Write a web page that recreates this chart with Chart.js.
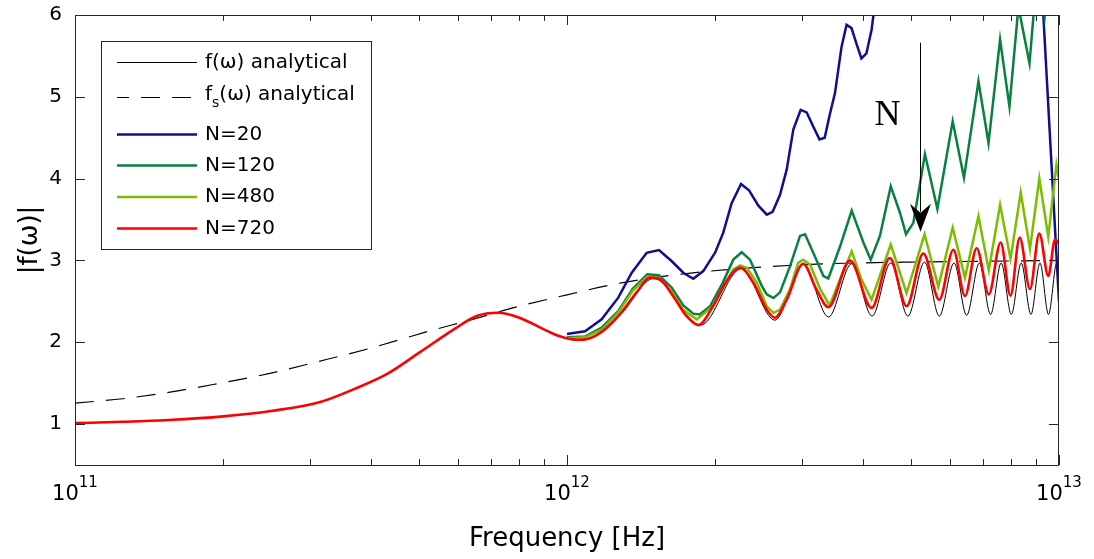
<!DOCTYPE html>
<html>
<head>
<meta charset="utf-8">
<script src="https://cdn.jsdelivr.net/npm/chart.js@4.4.0/dist/chart.umd.min.js"></script>
<style>
  html, body { margin: 0; padding: 0; background: #fff; }
  #wrap { width: 1094px; height: 559px; }
</style>
</head>
<body>
<div id="wrap"><canvas id="chart" width="1094" height="559"></canvas></div>
<script>
// valores: [frequência em Hz, |f(ω)|]
const fAnalytical = [
  [1e11, 1.012], [1.25e11, 1.028], [1.55e11, 1.05], [2e11, 1.094], [2.5e11, 1.16], [3.15e11, 1.27],
  [3.7e11, 1.43], [4.3e11, 1.61], [5e11, 1.87], [5.9e11, 2.16], [6.55e11, 2.32], [7.25e11, 2.36],
  [8e11, 2.30], [9.1e11, 2.14], [1.06e12, 2.02], [1.28e12, 2.33], [1.5e12, 2.78], [1.87e12, 2.21],
  [2.26e12, 2.90], [2.645e12, 2.27], [3.02e12, 2.95], [3.4e12, 2.31], [3.79e12, 2.96], [4.17e12, 2.32],
  [4.55e12, 2.97], [4.93e12, 2.32], [5.33e12, 2.98], [5.71e12, 2.32], [6.12e12, 2.97], [6.49e12, 2.33],
  [6.89e12, 2.97], [7.26e12, 2.34], [7.63e12, 2.97], [8.0e12, 2.34], [8.38e12, 2.97], [8.77e12, 2.34],
  [9.15e12, 2.97], [9.52e12, 2.34], [9.9e12, 2.97], [1e13, 2.96]
];

const fsAnalytical = [
  [1e11, 1.256], [1.25e11, 1.31], [1.56e11, 1.39], [1.97e11, 1.50], [2.49e11, 1.62], [3.1e11, 1.76],
  [4e11, 1.93], [5.27e11, 2.14], [6.35e11, 2.27], [8e11, 2.44], [1e12, 2.58], [1.3e12, 2.73],
  [1.75e12, 2.84], [2.5e12, 2.92], [3.4e12, 2.96], [5e12, 2.98], [7e12, 2.99], [1e13, 3.0]
];

const n20 = [
  [1e12, 2.10], [1.088e12, 2.134], [1.176e12, 2.28], [1.271e12, 2.545], [1.354e12, 2.85], [1.452e12, 3.094],
  [1.538e12, 3.126], [1.633e12, 2.99], [1.723e12, 2.85], [1.806e12, 2.777], [1.892e12, 2.87], [2.0e12, 3.094],
  [2.078e12, 3.34], [2.161e12, 3.70], [2.258e12, 3.935], [2.344e12, 3.857], [2.449e12, 3.67], [2.547e12, 3.56],
  [2.618e12, 3.594], [2.709e12, 3.80], [2.796e12, 4.11], [2.884e12, 4.60], [2.985e12, 4.84], [3.07e12, 4.81],
  [3.164e12, 4.64], [3.26e12, 4.48], [3.34e12, 4.50], [3.42e12, 4.78], [3.505e12, 5.045], [3.614e12, 5.61],
  [3.70e12, 5.88], [3.787e12, 5.84], [3.875e12, 5.65], [3.966e12, 5.47], [4.06e12, 5.53], [4.16e12, 5.82],
  [4.3e12, 6.5], [9.1e12, 7.0], [1e13, 2.5]
];

const n120 = [
  [1e12, 2.06], [1.088e12, 2.07], [1.176e12, 2.18], [1.271e12, 2.38], [1.36e12, 2.655], [1.456e12, 2.83],
  [1.538e12, 2.82], [1.633e12, 2.667], [1.723e12, 2.45], [1.806e12, 2.35], [1.86e12, 2.34], [1.953e12, 2.44],
  [2.07e12, 2.72], [2.178e12, 3.01], [2.265e12, 3.10], [2.355e12, 3.01], [2.488e12, 2.69], [2.547e12, 2.585],
  [2.628e12, 2.54], [2.71e12, 2.61], [2.84e12, 2.93], [2.976e12, 3.30], [3.046e12, 3.32], [3.168e12, 3.09],
  [3.32e12, 2.81], [3.397e12, 2.78], [3.589e12, 3.17], [3.79e12, 3.61], [4.003e12, 3.22], [4.143e12, 3.01],
  [4.325e12, 3.30], [4.55e12, 3.905], [4.752e12, 3.58], [4.887e12, 3.32], [5.058e12, 3.46], [5.34e12, 4.30],
  [5.66e12, 3.63], [6.08e12, 4.70], [6.41e12, 4.01], [6.86e12, 5.19], [7.19e12, 4.435], [7.59e12, 5.70],
  [7.93e12, 4.88], [8.27e12, 6.1], [8.71e12, 5.41], [9.05e12, 6.6], [9.35e12, 5.98], [9.7e12, 7.0], [1e13, 6.6]
];

const n480 = [
  [1e12, 2.05], [1.09e12, 2.06], [1.18e12, 2.16], [1.27e12, 2.36], [1.36e12, 2.63], [1.455e12, 2.80],
  [1.54e12, 2.79], [1.635e12, 2.61], [1.72e12, 2.40], [1.835e12, 2.28], [1.98e12, 2.44], [2.078e12, 2.667],
  [2.178e12, 2.89], [2.25e12, 2.94], [2.32e12, 2.91], [2.43e12, 2.73], [2.547e12, 2.44], [2.628e12, 2.36],
  [2.71e12, 2.40], [2.84e12, 2.65], [2.95e12, 2.97], [3.02e12, 3.01], [3.12e12, 2.95], [3.27e12, 2.65],
  [3.42e12, 2.45], [3.589e12, 2.77], [3.79e12, 3.11], [3.966e12, 2.77], [4.16e12, 2.52], [4.55e12, 3.195],
  [4.9e12, 2.60], [5.33e12, 3.32], [5.685e12, 2.68], [6.08e12, 3.40], [6.44e12, 2.79], [6.86e12, 3.54],
  [7.2e12, 2.88], [7.59e12, 3.68], [7.97e12, 3.02], [8.36e12, 3.83], [8.73e12, 3.14], [9.12e12, 4.00],
  [9.51e12, 3.29], [9.88e12, 4.17], [1e13, 3.99]
];

const n720 = [
  [1e11, 1.012], [1.25e11, 1.028], [1.55e11, 1.05], [2e11, 1.094], [2.5e11, 1.16], [3.15e11, 1.27],
  [3.7e11, 1.43], [4.3e11, 1.61], [5e11, 1.87], [5.9e11, 2.16], [6.55e11, 2.32], [7.25e11, 2.36],
  [8e11, 2.30], [9.1e11, 2.14], [9.7e11, 2.07], [1.05e12, 2.03], [1.1e12, 2.04], [1.185e12, 2.14],
  [1.28e12, 2.34], [1.385e12, 2.61], [1.475e12, 2.79], [1.545e12, 2.77], [1.645e12, 2.56], [1.75e12, 2.32],
  [1.85e12, 2.21], [1.98e12, 2.44], [2.11e12, 2.75], [2.25e12, 2.91], [2.39e12, 2.73], [2.547e12, 2.40],
  [2.645e12, 2.30], [2.796e12, 2.52], [3.02e12, 2.96], [3.21e12, 2.65], [3.4e12, 2.43], [3.76e12, 3.00],
  [4.16e12, 2.42], [4.53e12, 3.03], [4.9e12, 2.44], [5.3e12, 3.085], [5.71e12, 2.52], [6.1e12, 3.13],
  [6.44e12, 2.565], [6.8e12, 3.15], [7.2e12, 2.585], [7.61e12, 3.22], [7.97e12, 2.57], [8.32e12, 3.28],
  [8.73e12, 2.65], [9.12e12, 3.33], [9.51e12, 2.81], [9.82e12, 3.26], [1e13, 3.2]
];

const seriesLabels = ['f(ω) analytical', 'f_s(ω) analytical', 'N=20', 'N=120', 'N=480', 'N=720'];
const yTicks = [1, 2, 3, 4, 5, 6];
const xDecades = [1e11, 1e12, 1e13];
const xTickLabels = [['10', '11'], ['10', '12'], ['10', '13']];
const xTitle = 'Frequency [Hz]';
const yTitle = '|f(ω)|';
const arrowLabel = 'N';

// estilo
const font = '"DejaVu Sans", sans-serif';
const axisColor = '#262626';
const colors = ['#000000', '#000000', '#0f0f8f', '#0a8040', '#7cbd00', '#ff0000'];

// posição da seta "N" (em unidades dos eixos)
const arrowAt = { x: 5.22e12, top: 5.66, tip: 3.35 };
const nTextAt = { x: 4.48e12, y: 4.77 };

const toXY = arr => arr.map(p => ({ x: p[0], y: p[1] }));

function drawRich(ctx, text, x, y, size) {
  // "_" marca o caractere seguinte como subscrito
  const parts = text.split(/_(.)/);
  let cx = x;
  parts.forEach((part, i) => {
    if (!part) return;
    const sub = i % 2 === 1;
    ctx.font = `${sub ? Math.round(size * 0.72) : size}px ${font}`;
    ctx.fillText(part, cx, sub ? y + size * 0.45 : y);
    cx += ctx.measureText(part).width;
  });
}

function seg(ctx, x1, y1, x2, y2) {
  ctx.beginPath();
  ctx.moveTo(x1, y1);
  ctx.lineTo(x2, y2);
  ctx.stroke();
}

const decorPlugin = {
  id: 'decor',
  afterDraw(chart) {
    const { ctx, chartArea: a, scales: { x, y } } = chart;
    ctx.save();

    // caixa e marcas dos eixos (para dentro)
    ctx.strokeStyle = axisColor;
    ctx.lineWidth = 1;
    ctx.strokeRect(a.left + 0.5, a.top + 0.5, a.right - a.left - 1, a.bottom - a.top);
    yTicks.forEach(v => {
      const py = Math.round(y.getPixelForValue(v)) + 0.5;
      seg(ctx, a.left, py, a.left + 10, py);
      seg(ctx, a.right - 10, py, a.right, py);
    });
    xDecades.forEach(d => {
      for (let k = 1; k <= 9; k++) {
        const v = k * d;
        if (v > x.max * 1.0001) break;
        const px = Math.round(x.getPixelForValue(v)) + 0.5;
        const len = k === 1 ? 10 : 6;
        seg(ctx, px, a.bottom, px, a.bottom - len);
        seg(ctx, px, a.top, px, a.top + len);
      }
    });

    // rótulos do eixo y
    ctx.fillStyle = '#000';
    ctx.font = `20px ${font}`;
    ctx.textAlign = 'right';
    ctx.textBaseline = 'middle';
    yTicks.forEach(v => ctx.fillText(String(v), a.left - 13, y.getPixelForValue(v)));

    // rótulos do eixo x com expoente
    ctx.textAlign = 'left';
    ctx.textBaseline = 'alphabetic';
    xDecades.forEach((d, i) => {
      const [base, exp] = xTickLabels[i];
      ctx.font = `21px ${font}`;
      const wb = ctx.measureText(base).width;
      ctx.font = `15px ${font}`;
      const we = ctx.measureText(exp).width;
      const px = x.getPixelForValue(d);
      const x0 = px - (wb + we) / 2;
      ctx.font = `21px ${font}`;
      ctx.fillText(base, x0, 500);
      ctx.font = `15px ${font}`;
      ctx.fillText(exp, x0 + wb, 487);
    });

    // títulos
    ctx.font = `26px ${font}`;
    ctx.textAlign = 'center';
    ctx.textBaseline = 'middle';
    ctx.fillText(xTitle, (a.left + a.right) / 2, 539);
    ctx.save();
    ctx.translate(30, (a.top + a.bottom) / 2);
    ctx.rotate(-Math.PI / 2);
    ctx.fillText(yTitle, 0, 0);
    ctx.restore();

    // legenda
    const box = { left: 101, top: 41, width: 270, height: 208 };
    ctx.fillStyle = '#fff';
    ctx.fillRect(box.left, box.top, box.width, box.height);
    ctx.strokeStyle = axisColor;
    ctx.lineWidth = 1;
    ctx.strokeRect(box.left + 0.5, box.top + 0.5, box.width, box.height);
    const rowsY = [62.5, 97.5, 134.5, 165.5, 197, 228.5];
    chart.data.datasets.forEach((ds, i) => {
      const ly = rowsY[i];
      ctx.strokeStyle = ds.borderColor;
      ctx.lineWidth = ds.borderWidth;
      ctx.setLineDash(ds.borderDash || []);
      ctx.lineDashOffset = ds.borderDash ? 7 : 0;
      seg(ctx, 117, ly, 197, ly);
      ctx.setLineDash([]);
      ctx.fillStyle = '#000';
      ctx.textAlign = 'left';
      ctx.textBaseline = 'middle';
      drawRich(ctx, ds.label, 205, ds.label.includes('_') ? ly - 3 : ly, 20);
    });

    // seta "N"
    const ax = Math.round(x.getPixelForValue(arrowAt.x)) + 0.5;
    const aTop = y.getPixelForValue(arrowAt.top);
    const aTip = y.getPixelForValue(arrowAt.tip);
    ctx.strokeStyle = '#000';
    ctx.lineWidth = 1;
    seg(ctx, ax, aTop, ax, aTip - 20);
    ctx.fillStyle = '#000';
    ctx.beginPath();
    ctx.moveTo(ax, aTip);
    ctx.lineTo(ax - 10.5, aTip - 28);
    ctx.lineTo(ax, aTip - 19);
    ctx.lineTo(ax + 10.5, aTip - 28);
    ctx.closePath();
    ctx.fill();
    ctx.font = '36px "Liberation Serif", serif';
    ctx.textAlign = 'center';
    ctx.textBaseline = 'middle';
    ctx.fillText(arrowLabel, x.getPixelForValue(nTextAt.x), y.getPixelForValue(nTextAt.y));

    ctx.restore();
  }
};

const seriesData = [fAnalytical, fsAnalytical, n20, n120, n480, n720];
const widths = [1, 1.2, 2.5, 2.5, 2.5, 2.6];

const datasets = seriesData.map((d, i) => ({
  label: seriesLabels[i],
  data: toXY(d),
  showLine: true,
  borderColor: colors[i],
  backgroundColor: colors[i],
  borderWidth: widths[i],
  borderDash: i === 1 ? [19, 12] : undefined,
  pointRadius: 0,
  tension: 0,
  cubicInterpolationMode: (i <= 1 || i === 5) ? 'monotone' : 'default',
  clip: 0,
  order: seriesData.length - i
}));

new Chart(document.getElementById('chart'), {
  type: 'scatter',
  data: { datasets },
  options: {
    responsive: false,
    animation: false,
    events: [],
    layout: { padding: { left: 75, right: 35, top: 15, bottom: 94 } },
    plugins: { legend: { display: false }, tooltip: { enabled: false } },
    scales: {
      x: { type: 'logarithmic', min: 1e11, max: 1e13, display: false },
      y: { type: 'linear', min: 0.5, max: 6, display: false }
    }
  },
  plugins: [decorPlugin]
});
</script>
</body>
</html>
